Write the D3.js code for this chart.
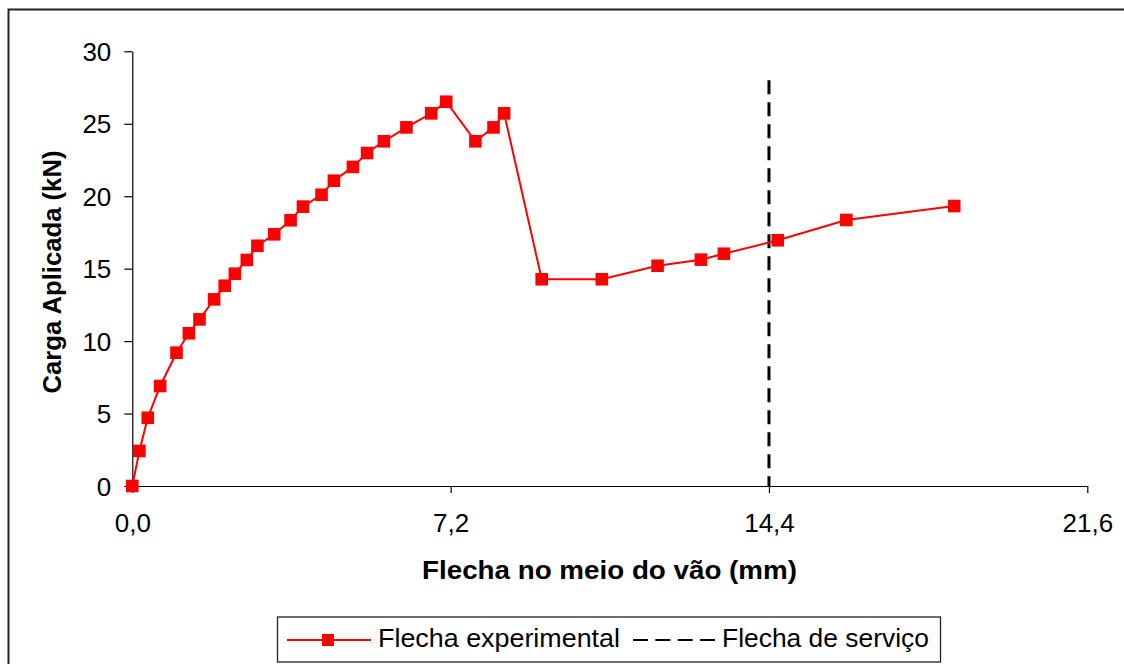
<!DOCTYPE html>
<html><head><meta charset="utf-8">
<script src="https://cdn.jsdelivr.net/npm/d3@7"></script>
<style>html,body{margin:0;padding:0;background:#fff;}svg{display:block;font-family:"Liberation Sans",Arial,sans-serif;}</style>
</head><body>
<svg id="c" width="1124" height="664"></svg>
<script>
const flecha = [0,0.16,0.35,0.63,1.00,1.28,1.52,1.85,2.09,2.32,2.59,2.83,3.21,3.58,3.86,4.28,4.56,4.99,5.31,5.69,6.20,6.76,7.10,7.76,8.17,8.41,9.26,10.62,11.88,12.86,13.38,14.60,16.15,18.59];
const carga  = [0,2.42,4.71,6.90,9.20,10.54,11.50,12.88,13.82,14.65,15.60,16.58,17.37,18.34,19.28,20.10,21.07,22.02,22.98,23.79,24.75,25.72,26.52,23.79,24.75,25.72,14.27,14.27,15.20,15.62,16.03,16.96,18.36,19.32];
const servicoX = [14.4,14.4];
const servicoY = [28,0];
const xTicks = [0,7.2,14.4,21.6];
const yTicks = [0,5,10,15,20,25,30];
const seriesNames = ["Flecha experimental","Flecha de serviço"];
const xTitle = "Flecha no meio do vão (mm)";
const yTitle = "Carga Aplicada (kN)";

const svg = d3.select("#c");
svg.append("rect").attr("x",8.5).attr("y",9.5).attr("width",1200).attr("height",800)
  .attr("fill","none").attr("stroke","#222").attr("stroke-width",2);

const x = d3.scaleLinear().domain([0,21.6]).range([132.3,1087.3]);
const y = d3.scaleLinear().domain([0,30]).range([486,51.3]);

const fmt = d => d3.format(".1f")(d).replace(".",",");
const gx = svg.append("g").attr("transform","translate(0,486)")
  .call(d3.axisBottom(x).tickValues(xTicks).tickFormat(fmt).tickSize(7).tickSizeOuter(0));
gx.select(".domain").attr("stroke","#000").attr("stroke-width",1.2);
gx.selectAll(".tick line").attr("stroke","#000").attr("stroke-width",1.2);
gx.selectAll(".tick text").attr("font-size",26).attr("font-family","Liberation Sans, Arial, sans-serif")
  .attr("fill","#000").attr("y",0).attr("dy",46);

const gy = svg.append("g").attr("transform","translate(132.3,0)")
  .call(d3.axisLeft(y).tickValues(yTicks).tickFormat(d3.format("d")).tickSize(8).tickSizeOuter(0));
gy.select(".domain").attr("stroke","#000").attr("stroke-width",1.2);
gy.selectAll(".tick line").attr("stroke","#000").attr("stroke-width",1.2);
gy.selectAll(".tick text").attr("font-size",26).attr("font-family","Liberation Sans, Arial, sans-serif")
  .attr("fill","#000").attr("x",-21).attr("dy","0.35em");

// service line
const servData = servicoX.map((v,i)=>[v,servicoY[i]]);
svg.append("path").datum(servData)
  .attr("d", d3.line().x(d=>x(d[0])).y(d=>y(d[1])))
  .attr("stroke","#000").attr("stroke-width",3).attr("stroke-dasharray","14,8").attr("fill","none");

// experimental series
const data = flecha.map((v,i)=>[v,carga[i]]);
svg.append("path").datum(data)
  .attr("d", d3.line().x(d=>x(d[0])).y(d=>y(d[1])))
  .attr("stroke","#ff0000").attr("stroke-width",2).attr("fill","none");
const ms = 12.6;
svg.selectAll("rect.pt").data(data).enter().append("rect").attr("class","pt")
  .attr("x",d=>x(d[0])-ms/2).attr("y",d=>y(d[1])-ms/2).attr("width",ms).attr("height",ms)
  .attr("fill","#ff0000");

// axis titles
svg.append("text").attr("x",609.5).attr("y",578.5).attr("text-anchor","middle")
  .attr("font-size",26).attr("font-weight","bold").attr("fill","#000")
  .attr("textLength",375).attr("lengthAdjust","spacingAndGlyphs").text(xTitle);
svg.append("text").attr("transform","translate(60.5,272) rotate(-90)").attr("text-anchor","middle")
  .attr("font-size",26).attr("font-weight","bold").attr("fill","#000")
  .attr("textLength",243).attr("lengthAdjust","spacingAndGlyphs").text(yTitle);

// legend
const lg = svg.append("g");
lg.append("rect").attr("x",277.5).attr("y",617).attr("width",663).attr("height",45)
  .attr("fill","#fff").attr("stroke","#222").attr("stroke-width",1.3);
lg.append("line").attr("x1",287).attr("x2",371).attr("y1",640).attr("y2",640)
  .attr("stroke","#ff0000").attr("stroke-width",2);
lg.append("rect").attr("x",328-6).attr("y",640-6).attr("width",12).attr("height",12).attr("fill","#ff0000");
lg.append("text").attr("x",378).attr("y",646.5).attr("font-size",26).attr("fill","#000")
  .attr("textLength",242).attr("lengthAdjust","spacingAndGlyphs").text(seriesNames[0]);
lg.append("line").attr("x1",633).attr("x2",715).attr("y1",640).attr("y2",640)
  .attr("stroke","#000").attr("stroke-width",2).attr("stroke-dasharray","15,7.33");
lg.append("text").attr("x",722).attr("y",646.5).attr("font-size",26).attr("fill","#000")
  .attr("textLength",207).attr("lengthAdjust","spacingAndGlyphs").text(seriesNames[1]);
</script>
</body></html>
